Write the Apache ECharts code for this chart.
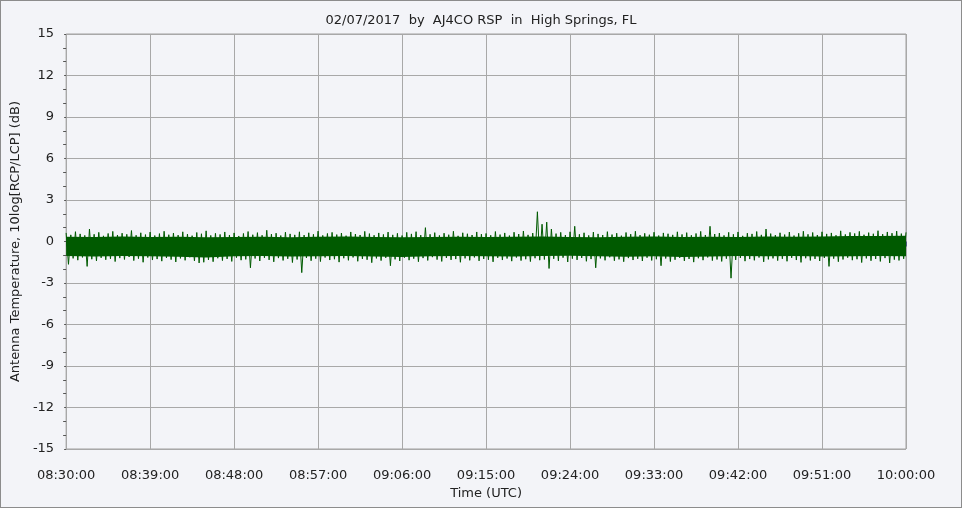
<!DOCTYPE html>
<html>
<head>
<meta charset="utf-8">
<script src="https://cdn.jsdelivr.net/npm/echarts@6/dist/echarts.min.js"></script>
<style>
  html, body { margin: 0; padding: 0; background: #f3f4f8; }
  #chart { width: 960px; height: 506px; border: 1px solid #8c8c8c; }
</style>
</head>
<body>
<div id="chart"></div>
<script>
// time is in minutes after 08:30:00 UTC
const tickLabels = ['08:30:00', '08:39:00', '08:48:00', '08:57:00', '09:06:00', '09:15:00',
  '09:24:00', '09:33:00', '09:42:00', '09:51:00', '10:00:00'];

// dense body of the noise trace, edges read every 3 min (t = 0, 3, ..., 90)
const bodyTop = [
  0.35, 0.33, 0.36, 0.32, 0.34, 0.30, 0.33, 0.35, 0.31, 0.34, 0.36,
  0.32, 0.30, 0.33, 0.35, 0.32, 0.34, 0.37, 0.33, 0.31, 0.34, 0.36,
  0.32, 0.35, 0.33, 0.36, 0.34, 0.37, 0.39, 0.40, 0.42
];
const bodyBottom = [
  -1.05, -1.08, -1.04, -1.06, -1.10, -1.15, -1.07, -1.05, -1.09, -1.06, -1.04,
  -1.08, -1.12, -1.07, -1.05, -1.06, -1.09, -1.05, -1.03, -1.07, -1.10, -1.06,
  -1.12, -1.08, -1.05, -1.07, -1.04, -1.08, -1.06, -1.05, -1.07
];

// upper peaks (dB), t = k * 0.5 min
const upperPeaks = [
  0.62, 0.48, 0.71, 0.55, 0.44, 0.90, 0.52, 0.66, 0.41, 0.58,
  0.73, 0.47, 0.60, 0.52, 0.79, 0.45, 0.63, 0.50, 0.68, 0.43,
  0.57, 0.74, 0.49, 0.61, 0.46, 0.70, 0.53, 0.42, 0.65, 0.56,
  0.77, 0.44, 0.59, 0.51, 0.69, 0.47, 0.62, 0.40, 0.58, 0.72,
  0.49, 0.64, 0.45, 0.81, 0.53, 0.60, 0.43, 0.67, 0.55, 0.48,
  0.70, 0.46, 0.63, 0.52, 0.75, 0.44, 0.58, 0.66, 0.50, 0.61,
  0.42, 0.69, 0.54, 0.47, 0.73, 0.57, 0.45, 0.62, 0.51, 0.68,
  0.48, 0.59, 0.43, 0.66, 0.55, 0.71, 0.46, 1.00, 0.52, 0.64,
  0.44, 0.60, 0.49, 0.74, 0.41, 0.63, 0.56, 0.47, 0.69, 0.53,
  0.58, 0.45, 0.72, 0.50, 0.62, 0.43, 0.67, 0.54, 0.76, 0.48,
  0.61, 2.15, 1.25, 1.40, 0.90, 0.57, 0.66, 0.46, 0.70, 1.10,
  0.52, 0.63, 0.44, 0.68, 0.55, 0.47, 0.71, 0.50, 0.60, 0.42,
  0.65, 0.53, 0.74, 0.46, 0.59, 0.49, 0.67, 0.43, 0.62, 0.56,
  0.48, 0.70, 0.51, 0.64, 0.45, 0.58, 0.73, 0.47, 1.10, 0.54,
  0.61, 0.44, 0.66, 0.52, 0.69, 0.41, 0.60, 0.55, 0.72, 0.48,
  0.90, 0.57, 0.46, 0.63, 0.50, 0.68, 0.43, 0.59, 0.74, 0.52,
  0.65, 0.47, 0.70, 0.55, 0.62, 0.45, 0.77, 0.51, 0.66, 0.58,
  0.73, 0.49, 0.64, 0.56, 0.78, 0.53, 0.69, 0.60, 0.75, 0.57, 0.66
];

// lower peaks (dB), t = k * 0.5 + 0.25 min
const lowerPeaks = [
  -1.65, -1.22, -1.35, -1.15, -1.80, -1.28, -1.40, -1.18, -1.32, -1.25,
  -1.45, -1.20, -1.30, -1.12, -1.38, -1.24, -1.50, -1.16, -1.34, -1.27,
  -1.42, -1.19, -1.31, -1.48, -1.22, -1.36, -1.14, -1.40, -1.55, -1.50,
  -1.33, -1.46, -1.21, -1.38, -1.26, -1.44, -1.17, -1.35, -1.29, -1.90,
  -1.23, -1.41, -1.18, -1.33, -1.47, -1.20, -1.37, -1.25, -1.52, -1.30,
  -2.25, -1.19, -1.39, -1.24, -1.45, -1.16, -1.34, -1.28, -1.49, -1.21,
  -1.36, -1.15, -1.43, -1.26, -1.32, -1.53, -1.22, -1.38, -1.18, -1.75,
  -1.29, -1.41, -1.17, -1.35, -1.24, -1.46, -1.20, -1.37, -1.13, -1.31,
  -1.44, -1.19, -1.33, -1.27, -1.50, -1.22, -1.36, -1.15, -1.40, -1.26,
  -1.32, -1.47, -1.18, -1.34, -1.23, -1.42, -1.16, -1.38, -1.28, -1.45,
  -1.21, -1.35, -1.30, -1.95, -1.25, -1.40, -1.17, -1.48, -1.24, -1.33,
  -1.19, -1.43, -1.27, -1.90, -1.22, -1.36, -1.14, -1.39, -1.29, -1.46,
  -1.20, -1.34, -1.25, -1.41, -1.17, -1.37, -1.28, -1.75, -1.23, -1.45,
  -1.32, -1.18, -1.40, -1.26, -1.49, -1.21, -1.35, -1.15, -1.38, -1.30,
  -1.44, -1.24, -2.65, -1.33, -1.19, -1.42, -1.27, -1.36, -1.16, -1.47,
  -1.29, -1.22, -1.38, -1.25, -1.43, -1.18, -1.34, -1.51, -1.21, -1.37,
  -1.26, -1.41, -1.19, -1.80, -1.24, -1.46, -1.30, -1.17, -1.35, -1.28,
  -1.52, -1.22, -1.39, -1.26, -1.44, -1.20, -1.55, -1.31, -1.37, -1.25
];

const chart = echarts.init(document.getElementById('chart'));

let points = [];
upperPeaks.forEach((v, k) => {
  points.push([k * 0.5, v]);
  if (k < lowerPeaks.length) points.push([k * 0.5 + 0.25, lowerPeaks[k]]);
});

const fontName = 'DejaVu Sans';
const traceColor = '#005a00';

// solid body of the trace as one polygon, placed through the axis scales
function renderBody(params, api) {
  let outline = [];
  bodyTop.forEach((v, i) => outline.push(api.coord([i * 3, v])));
  for (let i = bodyBottom.length - 1; i >= 0; i--) {
    outline.push(api.coord([i * 3, bodyBottom[i]]));
  }
  return {
    type: 'polygon',
    shape: { points: outline },
    style: { fill: traceColor }
  };
}

chart.setOption({
  animation: false,
  backgroundColor: '#f3f4f8',
  title: {
    text: '02/07/2017  by  AJ4CO RSP  in  High Springs, FL',
    left: 'center',
    top: 8,
    textStyle: { fontFamily: fontName, fontSize: 13, fontWeight: 'normal', color: '#222' }
  },
  grid: {
    left: 63,
    right: 55,
    top: 33,
    bottom: 58,
    show: true,
    borderColor: '#a0a0a0',
    borderWidth: 1,
    backgroundColor: '#f3f4f8'
  },
  xAxis: {
    type: 'value',
    min: 0,
    max: 90,
    interval: 9,
    offset: 3,
    name: 'Time (UTC)',
    nameLocation: 'middle',
    nameGap: 32,
    nameTextStyle: { fontFamily: fontName, fontSize: 13, color: '#222' },
    axisLine: { show: false },
    axisTick: { show: true, length: 5, lineStyle: { color: '#4a5878' } },
    minorTick: { show: true, splitNumber: 6, length: 2, lineStyle: { color: '#4a5878' } },
    axisLabel: {
      margin: 17,
      fontFamily: fontName,
      fontSize: 13,
      color: '#222',
      formatter: (v) => tickLabels[Math.round(v / 9)]
    },
    splitLine: { show: true, lineStyle: { color: '#a8a8a8', width: 1 } }
  },
  yAxis: {
    type: 'value',
    min: -15,
    max: 15,
    interval: 3,
    name: 'Antenna Temperature, 10log[RCP/LCP] (dB)',
    nameLocation: 'middle',
    nameGap: 38,
    nameTextStyle: { fontFamily: fontName, fontSize: 13, color: '#222' },
    axisLine: { show: false },
    axisTick: { show: true, length: 2, lineStyle: { color: '#555' } },
    minorTick: { show: true, splitNumber: 3, length: 3, lineStyle: { color: '#555' } },
    axisLabel: { margin: 12, fontFamily: fontName, fontSize: 13, color: '#222' },
    splitLine: { show: true, lineStyle: { color: '#a8a8a8', width: 1 } }
  },
  series: [{
    type: 'custom',
    data: [0],
    renderItem: renderBody,
    clip: true,
    silent: true
  }, {
    type: 'line',
    data: points,
    symbol: 'none',
    showSymbol: false,
    sampling: null,
    silent: true,
    lineStyle: { color: traceColor, width: 1 },
    itemStyle: { color: traceColor }
  }]
});
</script>
</body>
</html>
